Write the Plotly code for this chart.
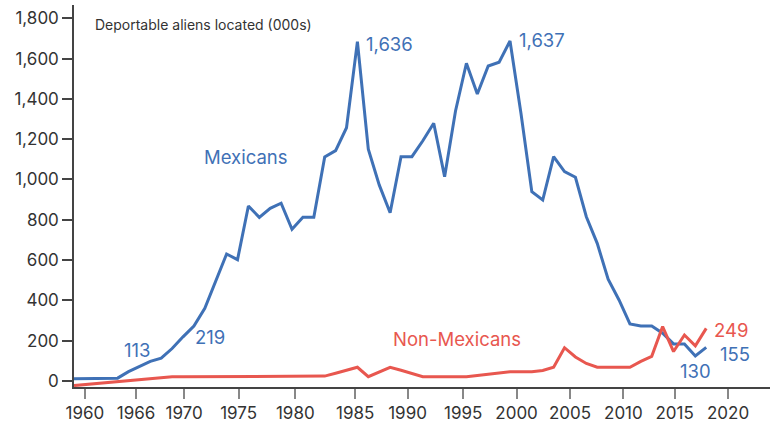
import plotly.graph_objects as go

years = list(range(1960, 2019))

mexicans = [11, 11, 11, 11, 14, 46, 71, 97, 113, 161, 219, 273, 361, 498, 630, 602,
            868, 812, 857, 882, 753, 812, 812, 1112, 1143, 1257, 1684, 1150, 973, 835,
            1113, 1113, 1192, 1279, 1014, 1340, 1577, 1424, 1563, 1582, 1687, 1330, 939,
            898, 1113, 1039, 1011, 815, 683, 505, 402, 283, 273, 273, 237, 184, 184, 124, 167]

non_mexicans = [-23, -18, -13, -8, -3, 1, 6, 11, 16, 21, 21, 21, 21, 21, 21, 21,
                21, 21, 21, 21, 21, 21, 21, 24, 38, 53, 68, 21, 45, 68,
                53, 37, 21, 21, 21, 21, 21, 27, 33, 40, 46, 46, 46,
                52, 68, 165, 119, 87, 68, 68, 68, 68, 97, 122, 270, 146, 228, 174, 261]

tick_labels = ["1960", "1966", "1970", "1975", "1980", "1985", "1990",
               "1995", "2000", "2005", "2010", "2015", "2020"]
tick_positions = [1961.0, 1965.7, 1970.1, 1975.1, 1980.3, 1985.8, 1990.6,
                  1995.7, 2000.6, 2005.5, 2010.4, 2015.1, 2020.0]

y_tickvals = list(range(0, 2000, 200))
y_ticktext = [f"{v:,}" for v in y_tickvals]

BLUE = "#3f71b6"
RED = "#e8574f"
FONT = "Inter"

fig = go.Figure()
fig.add_trace(go.Scatter(x=years, y=mexicans, mode="lines",
                         line=dict(color=BLUE, width=3), name="Mexicans"))
fig.add_trace(go.Scatter(x=years, y=non_mexicans, mode="lines",
                         line=dict(color=RED, width=3), name="Non-Mexicans"))

annots = [
    ("Deportable aliens located (000s)", 1961.7, 1767, "#333333", 14),
    ("1,636", 1986.6, 1672, BLUE, 18.5),
    ("1,637", 2000.6, 1692, BLUE, 18.5),
    ("Mexicans", 1971.7, 1112, BLUE, 18.5),
    ("113", 1964.4, 154, BLUE, 18.5),
    ("219", 1970.9, 218, BLUE, 18.5),
    ("Non-Mexicans", 1989.1, 208, RED, 18.5),
    ("249", 2018.5, 253, RED, 18.5),
    ("155", 2019.1, 134, BLUE, 18.5),
    ("130", 2015.4, 50, BLUE, 18.5),
]
for text, x, y, color, size in annots:
    fig.add_annotation(x=x, y=y, xref="x", yref="y", text=text, showarrow=False,
                       xanchor="left", yanchor="middle",
                       font=dict(family=FONT, size=size, color=color))

fig.update_layout(
    width=770, height=426,
    margin=dict(l=74, r=0, t=5, b=39, autoexpand=False),
    paper_bgcolor="white", plot_bgcolor="white",
    showlegend=False,
    font=dict(family=FONT, size=17, color="#333333"),
    xaxis=dict(range=[1960, 2023.85], tickmode="array", tickvals=tick_positions,
               ticktext=tick_labels, showgrid=False, zeroline=False, automargin=False,
               showline=True, linecolor="#444444", linewidth=1.5,
               ticks="outside", ticklen=10, tickcolor="#888888", tickwidth=1.5,
               tickfont=dict(family=FONT, size=17, color="#333333")),
    yaxis=dict(range=[-30, 1866], tickmode="array", tickvals=y_tickvals,
               ticktext=y_ticktext, showgrid=False, zeroline=False, automargin=False,
               showline=True, linecolor="#444444", linewidth=1.5,
               ticks="outside", ticklen=10, tickcolor="#444444", tickwidth=1.5,
               tickfont=dict(family=FONT, size=17, color="#333333")),
)

fig.write_html("out.html", config={"displayModeBar": False},
               post_script="document.body.style.margin='0';document.body.style.overflow='hidden';")
